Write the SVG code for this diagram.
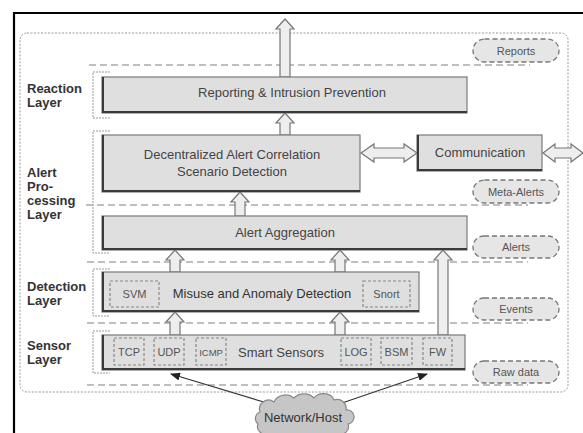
<svg xmlns="http://www.w3.org/2000/svg" width="583" height="433" viewBox="0 0 583 433">
<style>
.box{fill:#dfdfdf;stroke:#7a7a7a;stroke-width:1.2}
.edge{fill:none;stroke:#3a3a3a;stroke-width:2}
.t{font-family:"Liberation Sans",Arial,sans-serif;font-size:13px;fill:#444;text-anchor:middle}
.s{font-family:"Liberation Sans",Arial,sans-serif;font-size:11px;fill:#555;text-anchor:middle}
.lay{font-family:"Liberation Sans",Arial,sans-serif;font-size:13px;font-weight:bold;fill:#333}
.sub{fill:none;stroke:#888;stroke-width:1.2;stroke-dasharray:3,2}
.pill{fill:#e6e6e6;stroke:#777;stroke-width:1.3;stroke-dasharray:5,3}
.sep{fill:none;stroke:#aaa;stroke-width:1.3;stroke-dasharray:7,4}
.brk{fill:none;stroke:#999;stroke-width:1;stroke-dasharray:2,1}
.arr{fill:#eeeeee;stroke:#777;stroke-width:1.2}
.line{fill:none;stroke:#333;stroke-width:1.2}
</style>
<defs>
<marker id="ah" markerWidth="10" markerHeight="8" refX="9" refY="4" orient="auto" markerUnits="userSpaceOnUse">
<path d="M0,0 L10,4 L0,8 Z" fill="#222"/>
</marker>
</defs>
<rect x="0" y="0" width="583" height="433" fill="#fff"/>
<path d="M14,434 L14,13 L584,13" fill="none" stroke="#000" stroke-width="2.2"/>
<rect x="20" y="33" width="548" height="359" rx="7" fill="none" stroke="#999" stroke-width="1" stroke-dasharray="2,1.5"/>
<g id="separators">
<line class="sep" x1="89" y1="65" x2="530" y2="65"/>
<line class="sep" x1="86" y1="205" x2="528" y2="205"/>
<line class="sep" x1="87" y1="262" x2="528" y2="262"/>
<line class="sep" x1="87" y1="323" x2="528" y2="323"/>
<line class="sep" x1="87" y1="385" x2="528" y2="385"/>
</g>
<g id="brackets">
<path class="brk" d="M110,72 H93 V118 H110"/>
<path class="brk" d="M110,131 H93 V253 H110"/>
<path class="brk" d="M110,269 H93 V316 H110"/>
<path class="brk" d="M110,331 H93 V373 H110"/>
</g>
<g id="layer-labels">
<text class="lay" x="27" y="93">Reaction</text>
<text class="lay" x="27" y="107">Layer</text>
<text class="lay" x="27" y="177">Alert</text>
<text class="lay" x="27" y="191">Pro-</text>
<text class="lay" x="27" y="205">cessing</text>
<text class="lay" x="27" y="219">Layer</text>
<text class="lay" x="27" y="291">Detection</text>
<text class="lay" x="27" y="305">Layer</text>
<text class="lay" x="27" y="350">Sensor</text>
<text class="lay" x="27" y="364">Layer</text>
</g>
<g id="connectors">
<path class="arr" d="M280,77 V29 H276 L285,19 L294,29 H290 V77 Z"/>
<path class="arr" d="M280,135 V123 H276 L285,113 L294,123 H290 V135 Z"/>
<path class="arr" d="M235,216 V202 H231 L240,192 L249,202 H245 V216 Z"/>
<path class="arr" d="M170,272 V260 H166 L175,250 L184,260 H180 V272 Z"/>
<path class="arr" d="M335,272 V260 H331 L340,250 L349,260 H345 V272 Z"/>
<path class="arr" d="M170,335 V322 H166 L175,312 L184,322 H180 V335 Z"/>
<path class="arr" d="M335,335 V322 H331 L340,312 L349,322 H345 V335 Z"/>
<path class="arr" d="M438,335 V260 H434 L443,250 L452,260 H448 V335 Z"/>
<path class="arr" d="M361,153 L374,144 V148 H404 V144 L417,153 L404,162 V158 H374 V162 Z"/>
<path class="arr" d="M543,153 L555,144 V148 H571 V144 L583,153 L571,162 V158 H555 V162 Z"/>
<line class="line" x1="267" y1="403" x2="171" y2="374" marker-end="url(#ah)"/>
<line class="line" x1="342" y1="403" x2="427" y2="374" marker-end="url(#ah)"/>
</g>
<g id="reporting">
<rect class="box" x="102" y="77" width="365" height="36"/>
<path class="edge" d="M103,77 V112 H467"/>
<text class="t" x="292" y="97">Reporting &amp; Intrusion Prevention</text>
</g>
<g id="correlation">
<rect class="box" x="102" y="135" width="258" height="57"/>
<path class="edge" d="M103,135 V191 H360"/>
<text class="t" x="232" y="159">Decentralized Alert Correlation</text>
<text class="t" x="232" y="176">Scenario Detection</text>
</g>
<g id="communication">
<rect class="box" x="417" y="135" width="125" height="36"/>
<path class="edge" d="M418,135 V170 H542"/>
<text class="t" x="480" y="157">Communication</text>
</g>
<g id="aggregation">
<rect class="box" x="102" y="216" width="365" height="34"/>
<path class="edge" d="M103,216 V249 H467"/>
<text class="t" x="285" y="237">Alert Aggregation</text>
</g>
<g id="detection">
<rect class="box" x="102" y="272" width="317" height="40"/>
<path class="edge" d="M103,272 V311 H419"/>
<text class="t" x="262" y="298" style="fill:#333">Misuse and Anomaly Detection</text>
<g id="svm"><rect class="sub" x="110" y="281" width="49" height="26"/><text class="s" x="134.5" y="298">SVM</text></g>
<g id="snort"><rect class="sub" x="363" y="281" width="47" height="26"/><text class="s" x="386.5" y="298">Snort</text></g>
</g>
<g id="sensors">
<rect class="box" x="102" y="335" width="363" height="35"/>
<path class="edge" d="M103,335 V369 H465"/>
<text class="t" x="281" y="357">Smart Sensors</text>
<g id="tcp"><rect class="sub" x="114" y="338" width="30" height="27"/><text class="s" x="129" y="356">TCP</text></g>
<g id="udp"><rect class="sub" x="154" y="338" width="30" height="27"/><text class="s" x="169" y="356">UDP</text></g>
<g id="icmp"><rect class="sub" x="196" y="338" width="30" height="27"/><text class="s" x="211" y="356" style="font-size:9.5px">ICMP</text></g>
<g id="log"><rect class="sub" x="341" y="338" width="30" height="27"/><text class="s" x="356" y="356">LOG</text></g>
<g id="bsm"><rect class="sub" x="381" y="338" width="31" height="27"/><text class="s" x="396.5" y="356">BSM</text></g>
<g id="fw"><rect class="sub" x="423" y="338" width="29" height="27"/><text class="s" x="437.5" y="356">FW</text></g>
</g>
<g id="reports"><rect class="pill" x="473" y="39" width="86" height="23" rx="11.5"/><text class="s" x="516" y="54.5">Reports</text></g>
<g id="meta-alerts"><rect class="pill" x="473" y="180" width="86" height="23" rx="11.5"/><text class="s" x="516" y="195.5">Meta-Alerts</text></g>
<g id="alerts"><rect class="pill" x="473" y="236" width="86" height="22" rx="11"/><text class="s" x="516" y="251">Alerts</text></g>
<g id="events"><rect class="pill" x="473" y="298" width="86" height="22" rx="11"/><text class="s" x="516" y="313">Events</text></g>
<g id="raw-data"><rect class="pill" x="473" y="361" width="86" height="22" rx="11"/><text class="s" x="516" y="376">Raw data</text></g>
<g id="network-host">
<path d="M258,424 a7,7 0 0 1 2,-12 a9,9 0 0 1 14,-10 a12,10 0 0 1 20,-4 a12,9 0 0 1 20,0 a11,9 0 0 1 20,2 a9,9 0 0 1 12,10 a7,7 0 0 1 2,14 a9,8 0 0 1 -12,10 a12,8 0 0 1 -22,2 a12,8 0 0 1 -22,0 a12,8 0 0 1 -22,-2 a9,8 0 0 1 -12,-10 Z" fill="#c6c6c6" stroke="#888" stroke-width="1.2"/>
<text class="t" x="303" y="422" style="fill:#333">Network/Host</text>
</g>
</svg>
